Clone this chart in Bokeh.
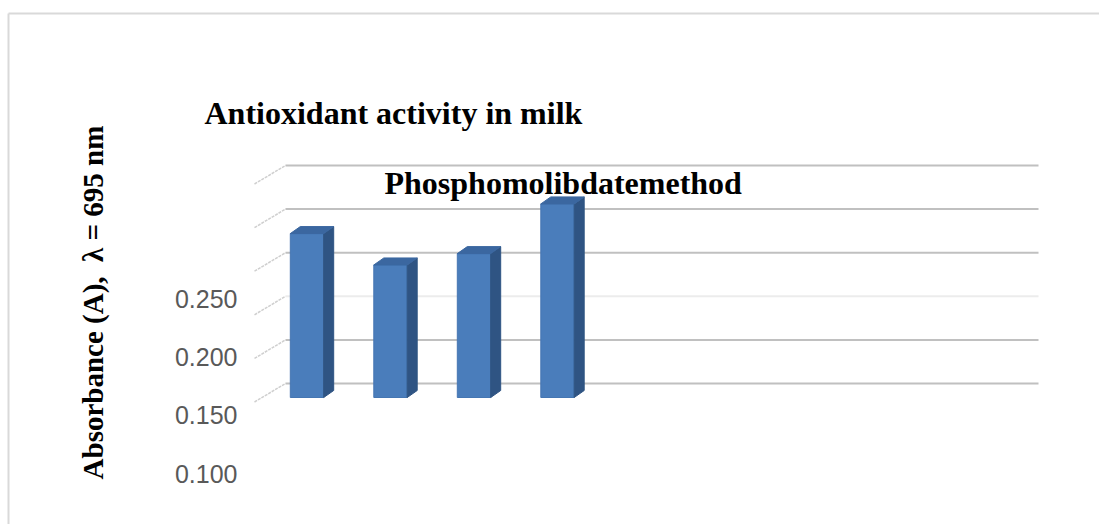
from bokeh.plotting import figure
from bokeh.models import Range1d, ColumnDataSource
from bokeh.core.properties import value
from bokeh.embed import file_html
from bokeh.resources import INLINE
import math

# ---- data -------------------------------------------------------------
samples = [1, 2, 3, 4]
absorbance = [0.338, 0.302, 0.315, 0.372]
grid_values = [0.15, 0.20, 0.25, 0.30, 0.35, 0.40]
tick_values = [0.100, 0.150, 0.200, 0.250]
tick_labels = ["0.100", "0.150", "0.200", "0.250"]

TITLE = "Antioxidant activity in milk"
SUBTITLE = "Phosphomolibdatemethod"
YLABEL = "Absorbance (A),\u00a0 \u03bb = 695 nm"

# ---- canvas geometry (pixels) ----------------------------------------
W, H = 1099, 524
X0_PX, X_STEP_PX = 306.5, 83.5        # centre of first column, column spacing
FLOOR_PX, PX_PER_UNIT = 397.0, 872.0  # y pixel of 0.15 on the front face
FLOOR_VAL = 0.15


def px_x(px):
    return 1 + (px - X0_PX) / X_STEP_PX


def px_y(py):
    return FLOOR_VAL + (FLOOR_PX - py) / PX_PER_UNIT


# tick label scale of the value axis
LBL_TOP = 0.25 + 298 / 1166.7
LBL_BOT = 0.25 - (H - 298) / 1166.7

p = figure(width=W, height=H, output_backend="svg", toolbar_location=None,
           x_range=Range1d(px_x(0), px_x(W)), y_range=Range1d(px_y(H), px_y(0)),
           x_axis_location=None, y_axis_location=None, min_border=0)
p.extra_y_ranges = {"lbl": Range1d(LBL_BOT, LBL_TOP)}
p.grid.visible = False
p.outline_line_color = None
p.background_fill_color = "white"
p.border_fill_color = "white"

# chart-area border (top and left edges)
p.segment(x0=[px_x(8), px_x(8)], y0=[px_y(13), px_y(13)],
          x1=[px_x(W + 5), px_x(8)], y1=[px_y(13), px_y(H + 5)],
          line_color="#d9d9d9", line_width=2)

# 3-D depth offsets
DX = 10 / X_STEP_PX
DY = 7 / PX_PER_UNIT
WALL_DY = 14 / PX_PER_UNIT
WALL_X0 = px_x(285)
WALL_X1 = px_x(1038)
SIDE_X0 = px_x(254)
SIDE_DROP = 18.5 / PX_PER_UNIT

# back-wall gridlines
grid_colors = ["#ececec" if abs(v - 0.25) < 1e-9 else "#c0c0c0" for v in grid_values]
p.segment(x0=[WALL_X0] * len(grid_values), x1=[WALL_X1] * len(grid_values),
          y0=[v + WALL_DY for v in grid_values], y1=[v + WALL_DY for v in grid_values],
          line_color=grid_colors, line_width=2)
# side-wall gridlines
p.segment(x0=[SIDE_X0] * len(grid_values), x1=[WALL_X0] * len(grid_values),
          y0=[v + WALL_DY - SIDE_DROP for v in grid_values],
          y1=[v + WALL_DY for v in grid_values],
          line_color="#cfcfcf", line_width=1.5, line_dash="3 1")

# columns: front face, side face and top face
BW = 0.4
half = BW / 2
src = ColumnDataSource(dict(x=samples, top=absorbance))
p.vbar(x="x", width=BW, bottom=FLOOR_VAL, top="top", source=src,
       fill_color="#4a7dbb", line_color="#4576b2", line_width=1)

side_xs = [[x + half, x + half + DX, x + half + DX, x + half] for x in samples]
side_ys = [[FLOOR_VAL, FLOOR_VAL + DY, v + DY, v] for v in absorbance]
p.patches(side_xs, side_ys, fill_color="#2f5483", line_color="#2f5483", line_width=1)

top_xs = [[x - half, x + half, x + half + DX, x - half + DX] for x in samples]
top_ys = [[v, v, v + DY, v + DY] for v in absorbance]
p.patches(top_xs, top_ys, fill_color="#3b67a0", line_color="#3b67a0", line_width=1)

# value-axis tick labels
p.text(x=[px_x(237)] * len(tick_values), y=tick_values, text=tick_labels,
       y_range_name="lbl", text_align="right", text_baseline="middle",
       text_font=value("Liberation Sans"), text_font_size="25px", text_color="#595959")

# titles
p.text(x=[px_x(204)], y=[px_y(112)], text=[TITLE], text_align="left",
       text_baseline="alphabetic", text_font=value("Liberation Serif"),
       text_font_style="bold", text_font_size="32px", text_color="#000000")
p.text(x=[px_x(384)], y=[px_y(182)], text=[SUBTITLE], text_align="left",
       text_baseline="alphabetic", text_font=value("Liberation Serif"),
       text_font_style="bold", text_font_size="32px", text_color="#000000")

# rotated value-axis title
p.text(x=[px_x(92)], y=[px_y(302)], text=[YLABEL], angle=math.pi / 2,
       text_align="center", text_baseline="alphabetic",
       text_font=value("Liberation Serif"), text_font_style="bold",
       text_font_size="29px", text_color="#000000")

open("out.html", "w").write(file_html(p, INLINE))
